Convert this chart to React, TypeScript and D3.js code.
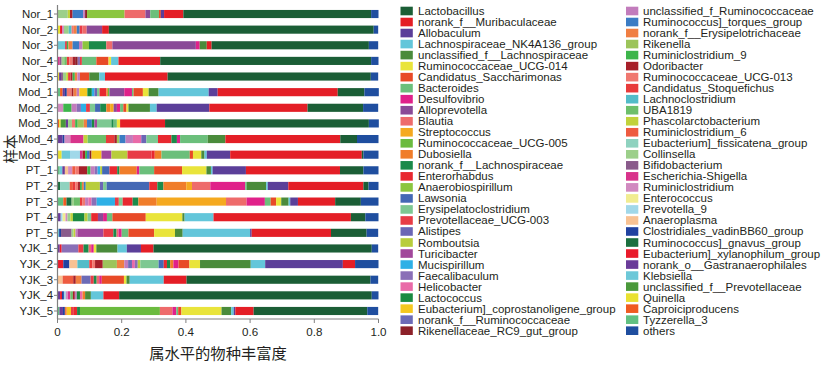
import * as React from 'react'
import * as d3 from 'd3'

const samples = [
    'Nor_1', 'Nor_2', 'Nor_3', 'Nor_4', 'Nor_5',
    'Mod_1', 'Mod_2', 'Mod_3', 'Mod_4', 'Mod_5',
    'PT_1', 'PT_2', 'PT_3', 'PT_4', 'PT_5',
    'YJK_1', 'YJK_2', 'YJK_3', 'YJK_4', 'YJK_5',
]

// legend order: left column, then right column
const genera = [
    'Lactobacillus', 'norank_f__Muribaculaceae', 'Allobaculum', 'Lachnospiraceae_NK4A136_group',
    'unclassified_f__Lachnospiraceae', 'Ruminococcaceae_UCG-014', 'Candidatus_Saccharimonas', 'Bacteroides',
    'Desulfovibrio', 'Alloprevotella', 'Blautia', 'Streptococcus', 'Ruminococcaceae_UCG-005', 'Dubosiella',
    'norank_f__Lachnospiraceae', 'Enterorhabdus', 'Anaerobiospirillum', 'Lawsonia', 'Erysipelatoclostridium',
    'Prevotellaceae_UCG-003', 'Alistipes', 'Romboutsia', 'Turicibacter', 'Mucispirillum', 'Faecalibaculum',
    'Helicobacter', 'Lactococcus', 'Eubacterium]_coprostanoligene_group', 'norank_f__Ruminococcaceae',
    'Rikenellaceae_RC9_gut_group',
    'unclassified_f_Ruminococcaceae', 'Ruminococcus]_torques_group', 'norank_f__Erysipelotrichaceae', 'Rikenella',
    'Ruminiclostridium_9', 'Odoribacter', 'Ruminococcaceae_UCG-013', 'Candidatus_Stoquefichus', 'Lachnoclostridium',
    'UBA1819', 'Phascolarctobacterium', 'Ruminiclostridium_6', 'Eubacterium]_fissicatena_group', 'Collinsella',
    'Bifidobacterium', 'Escherichia-Shigella', 'Ruminiclostridium', 'Enterococcus', 'Prevotella_9', 'Anaeroplasma',
    'Clostridiales_vadinBB60_group', 'Ruminococcus]_gnavus_group', 'Eubacterium]_xylanophilum_group',
    'norank_o__Gastranaerophilales', 'Klebsiella', 'unclassified_f__Prevotellaceae', 'Quinella', 'Caproiciproducens',
    'Tyzzerella_3', 'others',
]

const genusColors = [
    '#1b5e36', '#e41e26', '#5b3f99', '#63c6da', '#4a8b3b', '#e9e43b', '#e84a27', '#6bbf7b',
    '#e0218a', '#8a4a97', '#ee6b6b', '#f5a91f', '#6bbb3f', '#f07d2a', '#1b8a4a', '#e8282f',
    '#8cc63f', '#4468b5', '#7dc892', '#e83c46', '#6b66b5', '#b8cd3c', '#a2479b', '#2eb0e6',
    '#8a6fb7', '#e96aa8', '#1a8a41', '#f5c81f', '#6c6bb7', '#8c2129',
    '#c27cbc', '#3b7cc4', '#f07f42', '#9cc45a', '#3db54b', '#a7202a', '#f07870', '#e83b3b',
    '#52bcc8', '#6dbf6b', '#c1d23b', '#ee5b40', '#8fd2bf', '#9ccf8a', '#8a5b8b', '#d8348b',
    '#d18ac0', '#f1ec91', '#a1d8e9', '#f8c293', '#2142a0', '#1b6f3f', '#e91b2b', '#6a3b99',
    '#6dc8d8', '#4b993b', '#e9e131', '#f05b21', '#61c081', '#1f4e9f',
]

const xTicks = [0, 0.2, 0.4, 0.6, 0.8, 1.0]
const xTickLabels = ['0', '0.2', '0.4', '0.6', '0.8', '1.0']
const xLabel = '属水平的物种丰富度'
const yLabel = '样本'

const Nor_1 = {
    'Collinsella': 0.032, 'Phascolarctobacterium': 0.007, 'Odoribacter': 0.008, 'Ruminococcus]_torques_group': 0.033,
    'unclassified_f_Ruminococcaceae': 0.006, 'Rikenellaceae_RC9_gut_group': 0.006, 'Anaerobiospirillum': 0.117,
    'Blautia': 0.065, 'Alloprevotella': 0.015, 'Bacteroides': 0.027, 'Candidatus_Saccharimonas': 0.006,
    'Allobaculum': 0.010, 'norank_f__Muribaculaceae': 0.060, 'Lactobacillus': 0.585, 'others': 0.023,
}
const Nor_2 = {
    'Quinella': 0.008, 'Eubacterium]_xylanophilum_group': 0.006, 'Ruminiclostridium': 0.006, 'Collinsella': 0.015,
    'Lachnoclostridium': 0.009, 'Ruminococcaceae_UCG-013': 0.007, 'norank_f__Erysipelotrichaceae': 0.009,
    'Ruminococcus]_torques_group': 0.009, 'Prevotellaceae_UCG-003': 0.009, 'Blautia': 0.013, 'Alloprevotella': 0.048,
    'norank_f__Muribaculaceae': 0.021, 'Lactobacillus': 0.825, 'others': 0.014,
}
const Nor_3 = {
    'Klebsiella': 0.024, 'Eubacterium]_xylanophilum_group': 0.005, 'Ruminiclostridium_9': 0.005,
    'norank_f__Erysipelotrichaceae': 0.013, 'Ruminococcus]_torques_group': 0.020, 'unclassified_f_Ruminococcaceae': 0.011,
    'Anaerobiospirillum': 0.020, 'norank_f__Lachnospiraceae': 0.054, 'Blautia': 0.019, 'Alloprevotella': 0.260,
    'Desulfovibrio': 0.012, 'unclassified_f__Lachnospiraceae': 0.022, 'norank_f__Muribaculaceae': 0.015,
    'Lactobacillus': 0.490, 'others': 0.029,
}
const Nor_4 = {
    'Ruminococcaceae_UCG-013': 0.010, 'Collinsella': 0.008, 'Odoribacter': 0.008, 'Faecalibaculum': 0.007,
    'Candidatus_Stoquefichus': 0.008, 'Escherichia-Shigella': 0.007, 'UBA1819': 0.008, 'Rikenellaceae_RC9_gut_group': 0.008,
    'Bifidobacterium': 0.006, 'Prevotellaceae_UCG-003': 0.006, 'Bacteroides': 0.045, 'Candidatus_Saccharimonas': 0.038,
    'Ruminococcaceae_UCG-014': 0.008, 'Lachnospiraceae_NK4A136_group': 0.023, 'norank_f__Muribaculaceae': 0.130,
    'Lactobacillus': 0.657, 'others': 0.023,
}
const Nor_5 = {
    'unclassified_f_Ruminococcaceae': 0.008, 'norank_o__Gastranaerophilales': 0.006, 'Odoribacter': 0.006,
    'Phascolarctobacterium': 0.006, 'Quinella': 0.005, 'Ruminiclostridium_9': 0.007, 'norank_f__Erysipelotrichaceae': 0.008,
    'Bifidobacterium': 0.006, 'Candidatus_Stoquefichus': 0.008, 'Collinsella': 0.010, 'Candidatus_Saccharimonas': 0.029,
    'unclassified_f__Lachnospiraceae': 0.031, 'Lachnospiraceae_NK4A136_group': 0.018, 'norank_f__Muribaculaceae': 0.195,
    'Lactobacillus': 0.633, 'others': 0.023,
}
const Mod_1 = {
    'Caproiciproducens': 0.008, 'Tyzzerella_3': 0.008, 'Ruminococcaceae_UCG-013': 0.015, 'norank_f__Erysipelotrichaceae': 0.010,
    'Odoribacter': 0.006, 'Clostridiales_vadinBB60_group': 0.006, 'unclassified_f_Ruminococcaceae': 0.008,
    'norank_o__Gastranaerophilales': 0.007, 'Eubacterium]_coprostanoligene_group': 0.025, 'Lactococcus': 0.014,
    'Mucispirillum': 0.008, 'Erysipelatoclostridium': 0.008, 'Alistipes': 0.008, 'Enterorhabdus': 0.021,
    'Dubosiella': 0.005, 'Ruminococcaceae_UCG-005': 0.005, 'Alloprevotella': 0.046, 'Desulfovibrio': 0.024,
    'Bacteroides': 0.005, 'Candidatus_Saccharimonas': 0.029, 'Ruminococcaceae_UCG-014': 0.018,
    'unclassified_f__Lachnospiraceae': 0.031, 'Lachnospiraceae_NK4A136_group': 0.156, 'Allobaculum': 0.028,
    'norank_f__Muribaculaceae': 0.374, 'Lactobacillus': 0.083, 'others': 0.045,
}
const Mod_2 = {
    'Ruminiclostridium': 0.018, 'Ruminiclostridium_9': 0.026, 'unclassified_f_Ruminococcaceae': 0.016,
    'Faecalibaculum': 0.013, 'Mucispirillum': 0.016, 'Prevotellaceae_UCG-003': 0.012, 'Lawsonia': 0.016,
    'Erysipelatoclostridium': 0.016, 'norank_f__Lachnospiraceae': 0.019, 'Dubosiella': 0.012, 'Streptococcus': 0.011,
    'Alloprevotella': 0.010, 'Desulfovibrio': 0.010, 'Bacteroides': 0.010, 'Candidatus_Saccharimonas': 0.010,
    'Ruminococcaceae_UCG-014': 0.006, 'unclassified_f__Lachnospiraceae': 0.067, 'Lachnospiraceae_NK4A136_group': 0.021,
    'Allobaculum': 0.164, 'norank_f__Muribaculaceae': 0.306, 'Lactobacillus': 0.173, 'others': 0.047,
}
const Mod_3 = {
    'unclassified_f__Prevotellaceae': 0.016, 'Caproiciproducens': 0.005, 'Quinella': 0.005,
    'Ruminococcus]_torques_group': 0.015, 'Ruminococcaceae_UCG-013': 0.010, 'Ruminiclostridium_9': 0.008,
    'norank_o__Gastranaerophilales': 0.007, 'Collinsella': 0.012, 'norank_f__Erysipelotrichaceae': 0.010,
    'Rikenella': 0.019, 'Erysipelatoclostridium': 0.045, 'Lactococcus': 0.008, 'Turicibacter': 0.008,
    'norank_f__Lachnospiraceae': 0.007, 'Bacteroides': 0.010, 'Ruminococcaceae_UCG-014': 0.010,
    'norank_f__Muribaculaceae': 0.140, 'Lactobacillus': 0.635, 'others': 0.031,
}
const Mod_4 = {
    'norank_o__Gastranaerophilales': 0.016, 'Clostridiales_vadinBB60_group': 0.006, 'Ruminiclostridium': 0.018,
    'Escherichia-Shigella': 0.041, 'Phascolarctobacterium': 0.013, 'UBA1819': 0.057, 'Candidatus_Stoquefichus': 0.026,
    'Odoribacter': 0.008, 'Rikenella': 0.008, 'Ruminococcus]_torques_group': 0.019, 'unclassified_f_Ruminococcaceae': 0.023,
    'Helicobacter': 0.026, 'Alistipes': 0.016, 'Erysipelatoclostridium': 0.036, 'Enterorhabdus': 0.042,
    'norank_f__Lachnospiraceae': 0.017, 'Desulfovibrio': 0.010, 'Bacteroides': 0.086,
    'unclassified_f__Lachnospiraceae': 0.055, 'norank_f__Muribaculaceae': 0.358, 'Lactobacillus': 0.052, 'others': 0.067,
}
const Mod_5 = {
    'Quinella': 0.013, 'Klebsiella': 0.026, 'Prevotella_9': 0.031, 'Escherichia-Shigella': 0.008, 'Odoribacter': 0.008,
    'Ruminiclostridium_9': 0.006, 'Ruminococcus]_torques_group': 0.008, 'Rikenellaceae_RC9_gut_group': 0.006,
    'Eubacterium]_coprostanoligene_group': 0.031, 'Turicibacter': 0.031, 'Romboutsia': 0.050,
    'Prevotellaceae_UCG-003': 0.075, 'Enterorhabdus': 0.010, 'Dubosiella': 0.021, 'Bacteroides': 0.088,
    'Candidatus_Saccharimonas': 0.010, 'Ruminococcaceae_UCG-014': 0.026, 'unclassified_f__Lachnospiraceae': 0.010,
    'Lachnospiraceae_NK4A136_group': 0.007, 'Allobaculum': 0.073, 'norank_f__Muribaculaceae': 0.410,
    'Lactobacillus': 0.005, 'others': 0.047,
}
const PT_1 = {
    'Tyzzerella_3': 0.007, 'norank_o__Gastranaerophilales': 0.008, 'Anaeroplasma': 0.010, 'Ruminiclostridium': 0.013,
    'Ruminiclostridium_6': 0.010, 'Ruminococcaceae_UCG-013': 0.011, 'Odoribacter': 0.026, 'Ruminiclostridium_9': 0.010,
    'unclassified_f_Ruminococcaceae': 0.013, 'Klebsiella': 0.008, 'Faecalibaculum': 0.009, 'Mucispirillum': 0.008,
    'Romboutsia': 0.006, 'Lawsonia': 0.023, 'Enterorhabdus': 0.024, 'norank_f__Lachnospiraceae': 0.007,
    'Dubosiella': 0.054, 'Desulfovibrio': 0.008, 'Bacteroides': 0.046, 'Candidatus_Saccharimonas': 0.087,
    'Ruminococcaceae_UCG-014': 0.076, 'unclassified_f__Lachnospiraceae': 0.014, 'Lachnospiraceae_NK4A136_group': 0.005,
    'Allobaculum': 0.104, 'norank_f__Muribaculaceae': 0.293, 'Lactobacillus': 0.073, 'others': 0.047,
}
const PT_2 = {
    'Ruminococcus]_gnavus_group': 0.008, 'Eubacterium]_fissicatena_group': 0.030, 'Ruminiclostridium_6': 0.010,
    'Candidatus_Stoquefichus': 0.008, 'Ruminococcaceae_UCG-013': 0.008, 'Ruminiclostridium_9': 0.006, 'Odoribacter': 0.006,
    'norank_f__Erysipelotrichaceae': 0.006, 'Ruminococcus]_torques_group': 0.006, 'Romboutsia': 0.044, 'Alistipes': 0.010,
    'Erysipelatoclostridium': 0.011, 'Lawsonia': 0.133, 'Enterorhabdus': 0.025, 'norank_f__Lachnospiraceae': 0.019,
    'Dubosiella': 0.071, 'Streptococcus': 0.018, 'Blautia': 0.057, 'Desulfovibrio': 0.109, 'Bacteroides': 0.005,
    'unclassified_f__Lachnospiraceae': 0.060, 'Lachnospiraceae_NK4A136_group': 0.005, 'Allobaculum': 0.064,
    'norank_f__Muribaculaceae': 0.234, 'Lactobacillus': 0.016, 'others': 0.031,
}
const PT_3 = {
    'Tyzzerella_3': 0.018, 'Caproiciproducens': 0.010, 'Ruminococcus]_gnavus_group': 0.016, 'Collinsella': 0.007,
    'UBA1819': 0.019, 'Candidatus_Stoquefichus': 0.008, 'Ruminococcaceae_UCG-013': 0.008,
    'unclassified_f_Ruminococcaceae': 0.010, 'Helicobacter': 0.010, 'Faecalibaculum': 0.016, 'Mucispirillum': 0.057,
    'Prevotellaceae_UCG-003': 0.012, 'Erysipelatoclostridium': 0.012, 'Enterorhabdus': 0.031,
    'norank_f__Lachnospiraceae': 0.018, 'Dubosiella': 0.057, 'Streptococcus': 0.216, 'Blautia': 0.064,
    'Desulfovibrio': 0.057, 'Bacteroides': 0.018, 'Candidatus_Saccharimonas': 0.017, 'Ruminococcaceae_UCG-014': 0.016,
    'unclassified_f__Lachnospiraceae': 0.023, 'Lachnospiraceae_NK4A136_group': 0.005, 'Allobaculum': 0.024,
    'norank_f__Muribaculaceae': 0.116, 'Lactobacillus': 0.080, 'others': 0.055,
}
const PT_4 = {
    'norank_o__Gastranaerophilales': 0.010, 'Prevotella_9': 0.006, 'Enterococcus': 0.009, 'Ruminiclostridium': 0.006,
    'Collinsella': 0.009, 'Phascolarctobacterium': 0.008, 'Lactococcus': 0.036, 'Romboutsia': 0.010,
    'Erysipelatoclostridium': 0.011, 'Enterorhabdus': 0.021, 'Alloprevotella': 0.016, 'Desulfovibrio': 0.012,
    'Bacteroides': 0.017, 'Candidatus_Saccharimonas': 0.104, 'Ruminococcaceae_UCG-014': 0.114,
    'unclassified_f__Lachnospiraceae': 0.007, 'Lachnospiraceae_NK4A136_group': 0.090, 'norank_f__Muribaculaceae': 0.428,
    'Lactobacillus': 0.045, 'others': 0.041,
}
const PT_5 = {
    'Clostridiales_vadinBB60_group': 0.006, 'Klebsiella': 0.005, 'Bifidobacterium': 0.033, 'Collinsella': 0.006,
    'Phascolarctobacterium': 0.006, 'unclassified_f_Ruminococcaceae': 0.006, 'Turicibacter': 0.081,
    'Prevotellaceae_UCG-003': 0.031, 'norank_f__Lachnospiraceae': 0.010, 'Blautia': 0.006, 'Desulfovibrio': 0.010,
    'Bacteroides': 0.021, 'Candidatus_Saccharimonas': 0.080, 'Ruminococcaceae_UCG-014': 0.065,
    'unclassified_f__Lachnospiraceae': 0.024, 'Lachnospiraceae_NK4A136_group': 0.210, 'Allobaculum': 0.005,
    'norank_f__Muribaculaceae': 0.247, 'Lactobacillus': 0.111, 'others': 0.036,
}
const YJK_1 = {
    'Eubacterium]_xylanophilum_group': 0.006, 'norank_o__Gastranaerophilales': 0.007, 'Faecalibaculum': 0.052,
    'Prevotellaceae_UCG-003': 0.016, 'norank_f__Lachnospiraceae': 0.016, 'Blautia': 0.008, 'Desulfovibrio': 0.008,
    'Ruminococcaceae_UCG-014': 0.008, 'unclassified_f__Lachnospiraceae': 0.066, 'Lachnospiraceae_NK4A136_group': 0.029,
    'Allobaculum': 0.044, 'norank_f__Muribaculaceae': 0.039, 'Lactobacillus': 0.680, 'others': 0.020,
}
const YJK_2 = {
    'Eubacterium]_xylanophilum_group': 0.018, 'Clostridiales_vadinBB60_group': 0.019, 'Anaeroplasma': 0.025,
    'Lachnoclostridium': 0.037, 'Candidatus_Stoquefichus': 0.009, 'Ruminococcaceae_UCG-013': 0.009, 'Odoribacter': 0.024,
    'Rikenella': 0.044, 'norank_f__Erysipelotrichaceae': 0.023, 'unclassified_f_Ruminococcaceae': 0.012,
    'norank_f__Ruminococcaceae': 0.012, 'Helicobacter': 0.009, 'Faecalibaculum': 0.009, 'Romboutsia': 0.008,
    'Erysipelatoclostridium': 0.057, 'Lawsonia': 0.016, 'Enterorhabdus': 0.010, 'norank_f__Lachnospiraceae': 0.010,
    'Dubosiella': 0.010, 'Desulfovibrio': 0.016, 'Candidatus_Saccharimonas': 0.034, 'Ruminococcaceae_UCG-014': 0.033,
    'unclassified_f__Lachnospiraceae': 0.158, 'Lachnospiraceae_NK4A136_group': 0.045, 'Allobaculum': 0.242,
    'norank_f__Muribaculaceae': 0.038, 'others': 0.073,
}
const YJK_3 = {
    'Anaeroplasma': 0.016, 'Ruminiclostridium_6': 0.033, 'Odoribacter': 0.008, 'norank_f__Erysipelotrichaceae': 0.018,
    'norank_f__Ruminococcaceae': 0.028, 'Prevotellaceae_UCG-003': 0.010, 'norank_f__Lachnospiraceae': 0.009,
    'Blautia': 0.008, 'Desulfovibrio': 0.008, 'Candidatus_Saccharimonas': 0.069, 'Ruminococcaceae_UCG-014': 0.008,
    'unclassified_f__Lachnospiraceae': 0.010, 'Lachnospiraceae_NK4A136_group': 0.106, 'norank_f__Muribaculaceae': 0.071,
    'Lactobacillus': 0.573, 'others': 0.024,
}
const YJK_4 = {
    'norank_o__Gastranaerophilales': 0.008, 'Eubacterium]_xylanophilum_group': 0.006, 'Clostridiales_vadinBB60_group': 0.006,
    'Prevotella_9': 0.006, 'Ruminiclostridium': 0.006, 'Escherichia-Shigella': 0.008, 'UBA1819': 0.008, 'Odoribacter': 0.006,
    'unclassified_f_Ruminococcaceae': 0.006, 'Lactococcus': 0.010, 'Helicobacter': 0.008, 'Dubosiella': 0.008,
    'unclassified_f__Lachnospiraceae': 0.018, 'Lachnospiraceae_NK4A136_group': 0.039, 'norank_f__Muribaculaceae': 0.049,
    'Lactobacillus': 0.787, 'others': 0.021,
}
const YJK_5 = {
    'Tyzzerella_3': 0.006, 'norank_o__Gastranaerophilales': 0.011, 'Clostridiales_vadinBB60_group': 0.006,
    'norank_f__Erysipelotrichaceae': 0.006, 'Eubacterium]_coprostanoligene_group': 0.013, 'Prevotellaceae_UCG-003': 0.009,
    'Enterorhabdus': 0.010, 'norank_f__Lachnospiraceae': 0.009, 'Ruminococcaceae_UCG-005': 0.249, 'Blautia': 0.039,
    'Desulfovibrio': 0.012, 'Bacteroides': 0.006, 'Candidatus_Saccharimonas': 0.010, 'Ruminococcaceae_UCG-014': 0.125,
    'unclassified_f__Lachnospiraceae': 0.030, 'Lachnospiraceae_NK4A136_group': 0.008, 'Allobaculum': 0.005,
    'norank_f__Muribaculaceae': 0.057, 'Lactobacillus': 0.354, 'others': 0.034,
}

const sampleValues: Record<string, number>[] = [
    Nor_1, Nor_2, Nor_3, Nor_4, Nor_5,
    Mod_1, Mod_2, Mod_3, Mod_4, Mod_5,
    PT_1, PT_2, PT_3, PT_4, PT_5,
    YJK_1, YJK_2, YJK_3, YJK_4, YJK_5,
]

const FONT = 'Arial, "Liberation Sans", sans-serif'
const CJK_FONT = '"Noto Sans CJK SC", sans-serif'
const AXIS_COLOR = '#808080'
const TEXT_COLOR = '#231f20'

export default function App() {
    const WIDTH = 824
    const HEIGHT = 365

    const x = d3.scaleLinear().domain([0, 1]).range([57.5, 378.5])
    const y = d3.scaleBand<string>()
        .domain(samples)
        .range([6.2, 318.8])
        .paddingInner(0.48)
        .paddingOuter(0.24)
    const color = d3.scaleOrdinal<string, string>().domain(genera).range(genusColors)

    // bars stack from the end of the legend towards Lactobacillus, with "others" last
    const stackKeys = genera.slice(0, -1).reverse().concat(['others'])
    const rows = samples.map((s, i) => ({ sample: s, ...sampleValues[i] }))
    const series = d3.stack<any>()
        .keys(stackKeys)
        .value((d, k) => d[k] ?? 0)(rows)

    const legendRows = 30
    const legendY = d3.scaleLinear().domain([0, legendRows - 1]).range([11, 330.7])
    const legendCols = [
        { items: genera.slice(0, legendRows), boxX: 400.5, textX: 418 },
        { items: genera.slice(legendRows), boxX: 626, textX: 643 },
    ]

    const axisBottom = 319

    return <svg width={WIDTH} height={HEIGHT} viewBox={`0 0 ${WIDTH} ${HEIGHT}`}
        style={{ position: 'absolute', left: 0, top: 0, background: '#fff' }}>
        <rect width={WIDTH} height={HEIGHT} fill="#fff" />

        {/* stacked bars */}
        <g>
            {series.map(s =>
                <g key={s.key} fill={color(s.key)}>
                    {s.map((d, i) => d[1] - d[0] > 0 ?
                        <rect
                            key={i}
                            x={x(d[0])}
                            width={x(d[1]) - x(d[0])}
                            y={y(samples[i])}
                            height={y.bandwidth()}
                        /> : null)}
                </g>
            )}
        </g>

        {/* y axis */}
        <g>
            <line x1={x(0)} x2={x(0)} y1={5} y2={axisBottom} stroke={AXIS_COLOR} strokeWidth={1.2} />
            {samples.map(s =>
                <g key={s} transform={`translate(0 ${(y(s) as number) + y.bandwidth() / 2})`}>
                    <line x1={x(0) - 3.5} x2={x(0)} stroke={AXIS_COLOR} strokeWidth={1} />
                    <text x={53} textAnchor="end" dominantBaseline="central"
                        fontFamily={FONT} fontSize={11.4} fill={TEXT_COLOR}>{s}</text>
                </g>
            )}
            <text transform={`translate(9.5 149) rotate(-90)`} textAnchor="middle" dominantBaseline="central"
                fontFamily={CJK_FONT} fontSize={14.5} fill={TEXT_COLOR}>{yLabel}</text>
        </g>

        {/* x axis */}
        <g>
            <line x1={x(0)} x2={x(1)} y1={axisBottom} y2={axisBottom} stroke={AXIS_COLOR} strokeWidth={1.2} />
            {xTicks.map((t, i) =>
                <g key={t} transform={`translate(${x(t)} ${axisBottom})`}>
                    <line y2={4} stroke={AXIS_COLOR} strokeWidth={1} />
                    <text y={12.5} textAnchor="middle" dominantBaseline="central"
                        fontFamily={FONT} fontSize={11.6} fill={TEXT_COLOR}>{xTickLabels[i]}</text>
                </g>
            )}
            <text x={(x(0) + x(1)) / 2} y={352} textAnchor="middle" dominantBaseline="central"
                fontFamily={CJK_FONT} fontSize={15.3} fill={TEXT_COLOR}>{xLabel}</text>
        </g>

        {/* legend */}
        {legendCols.map((col, ci) =>
            <g key={ci}>
                {col.items.map((g, i) =>
                    <g key={g} transform={`translate(0 ${legendY(i)})`}>
                        <rect x={col.boxX} y={-4.3} width={12.3} height={8.6} fill={color(g)} />
                        <text x={col.textX} dominantBaseline="central" fontFamily={FONT}
                            fontSize={11.5} fill={TEXT_COLOR}>{g}</text>
                    </g>
                )}
            </g>
        )}
    </svg>
}
